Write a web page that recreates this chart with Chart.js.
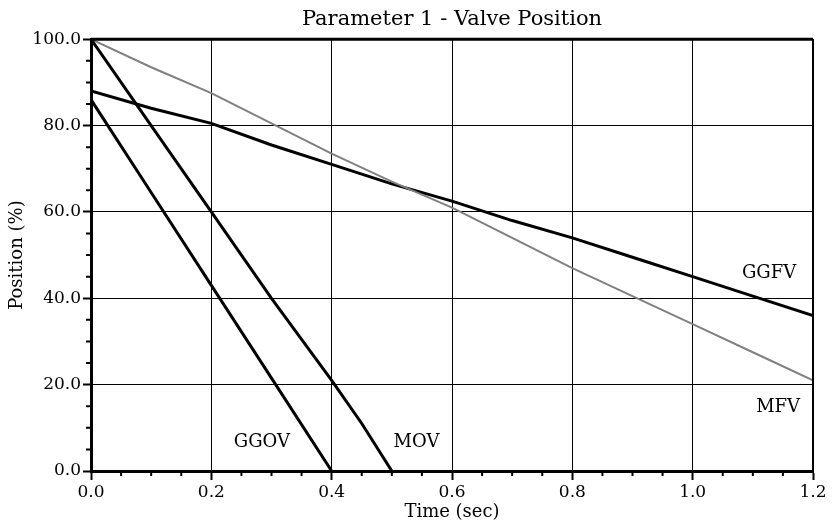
<!DOCTYPE html>
<html>
<head>
<meta charset="utf-8">
<script src="https://cdn.jsdelivr.net/npm/chart.js@4.4.0/dist/chart.umd.min.js"></script>
<style>
  html, body { margin: 0; padding: 0; background: #fff; }
  #wrap { width: 834px; height: 527px; }
</style>
</head>
<body>
<div id="wrap"><canvas id="valveChart" width="834" height="527"></canvas></div>
<script>
// datos
const xTicks = [0, 0.2, 0.4, 0.6, 0.8, 1.0, 1.2];
const yTicks = [0, 20, 40, 60, 80, 100];

const tiempoGGOV = [0, 0.1, 0.2, 0.3, 0.4];
const ggov = [86, 64.5, 43, 21.5, 0];

const tiempoMOV = [0, 0.1, 0.2, 0.3, 0.4, 0.45, 0.5];
const mov = [100, 80, 60, 40, 21, 11, 0];

const tiempoLargo = [0, 0.1, 0.2, 0.3, 0.4, 0.5, 0.6, 0.7, 0.8, 0.9, 1.0, 1.1, 1.2];
const mfv = [100, 93.5, 87.5, 80.5, 73.5, 67, 61, 54, 47, 40.5, 34, 27.5, 21];
const ggfv = [88, 84, 80.5, 75.5, 71, 66.5, 62.5, 58, 54, 49.5, 45, 40.5, 36];

const etiquetas = ['GGOV', 'MOV', 'GGFV', 'MFV'];

const fuente = 'DejaVu Serif';

function puntos(ts, vs) {
    return ts.map((t, i) => ({ x: t, y: vs[i] }));
}

// etiquetas dentro del grafico, en coordenadas de datos
const etiquetasPlugin = {
    id: 'etiquetas',
    afterDatasetsDraw(chart) {
        const { ctx, scales: { x, y } } = chart;
        const pos = [[0.284, 6.7], [0.541, 6.7], [1.127, 45.8], [1.142, 14.8]];
        ctx.save();
        ctx.fillStyle = '#000';
        ctx.font = '18px "' + fuente + '"';
        ctx.textAlign = 'center';
        ctx.textBaseline = 'middle';
        etiquetas.forEach((txt, i) => {
            ctx.fillText(txt, x.getPixelForValue(pos[i][0]), y.getPixelForValue(pos[i][1]));
        });
        ctx.restore();
    }
};

// marco superior/derecho y marcas menores
const marcoPlugin = {
    id: 'marco',
    afterDraw(chart) {
        const { ctx, chartArea: a, scales: { x, y } } = chart;
        ctx.save();
        ctx.strokeStyle = '#000';
        ctx.lineWidth = 3;
        ctx.beginPath();
        ctx.moveTo(a.left, a.top);
        ctx.lineTo(a.right, a.top);
        ctx.stroke();
        ctx.lineWidth = 2;
        ctx.beginPath();
        ctx.moveTo(a.right, a.top);
        ctx.lineTo(a.right, a.bottom);
        ctx.stroke();

        ctx.lineWidth = 2;
        ctx.beginPath();
        for (let k = 1; k < 24; k++) {
            if (k % 4 === 0) continue;
            const px = x.getPixelForValue(k * 0.05);
            ctx.moveTo(px, a.bottom);
            ctx.lineTo(px, a.bottom + 5);
        }
        for (let k = 1; k < 20; k++) {
            if (k % 4 === 0) continue;
            const py = y.getPixelForValue(k * 5);
            ctx.moveTo(a.left, py);
            ctx.lineTo(a.left - 5, py);
        }
        ctx.stroke();
        ctx.restore();
    }
};

const ctx = document.getElementById('valveChart').getContext('2d');
const valveChart = new Chart(ctx, {
    type: 'line',
    data: {
        datasets: [
            { label: 'GGOV', data: puntos(tiempoGGOV, ggov), borderColor: '#000', borderWidth: 3 },
            { label: 'MOV', data: puntos(tiempoMOV, mov), borderColor: '#000', borderWidth: 3 },
            { label: 'MFV', data: puntos(tiempoLargo, mfv), borderColor: '#808080', borderWidth: 2 },
            { label: 'GGFV', data: puntos(tiempoLargo, ggfv), borderColor: '#000', borderWidth: 3 }
        ]
    },
    options: {
        responsive: false,
        animation: false,
        elements: { point: { radius: 0 }, line: { tension: 0, fill: false } },
        layout: { padding: { left: 0, right: 21, top: 0, bottom: 0 } },
        plugins: {
            legend: { display: false },
            tooltip: { enabled: false },
            title: {
                display: true,
                fullSize: false,
                text: 'Parameter 1 - Valve Position',
                color: '#000',
                font: { family: fuente, size: 21, weight: 'normal' },
                padding: { top: 7, bottom: 7 }
            }
        },
        scales: {
            x: {
                type: 'linear',
                min: 0,
                max: 1.2,
                afterBuildTicks: s => { s.ticks = xTicks.map(v => ({ value: v })); },
                afterFit: s => { s.height = 56; },
                ticks: {
                    color: '#000',
                    font: { family: fuente, size: 17 },
                    padding: 2,
                    maxRotation: 0,
                    callback: v => Number(v).toFixed(1)
                },
                grid: { color: '#000', lineWidth: 1, tickLength: 9, tickColor: '#000', tickWidth: 2 },
                border: { color: '#000', width: 3 },
                title: {
                    display: true,
                    text: 'Time (sec)',
                    color: '#000',
                    font: { family: fuente, size: 18 },
                    padding: { top: 0, bottom: 4 }
                }
            },
            y: {
                min: 0,
                max: 100,
                afterBuildTicks: s => { s.ticks = yTicks.map(v => ({ value: v })); },
                afterFit: s => { s.width = 91; },
                ticks: {
                    color: '#000',
                    font: { family: fuente, size: 17 },
                    padding: 2,
                    callback: v => Number(v).toFixed(1)
                },
                grid: { color: '#000', lineWidth: 1, tickLength: 8, tickColor: '#000', tickWidth: 2 },
                border: { color: '#000', width: 3 },
                title: {
                    display: true,
                    text: 'Position (%)',
                    color: '#000',
                    font: { family: fuente, size: 18 },
                    padding: { top: 7, bottom: 0 }
                }
            }
        }
    },
    plugins: [etiquetasPlugin, marcoPlugin]
});
</script>
</body>
</html>
